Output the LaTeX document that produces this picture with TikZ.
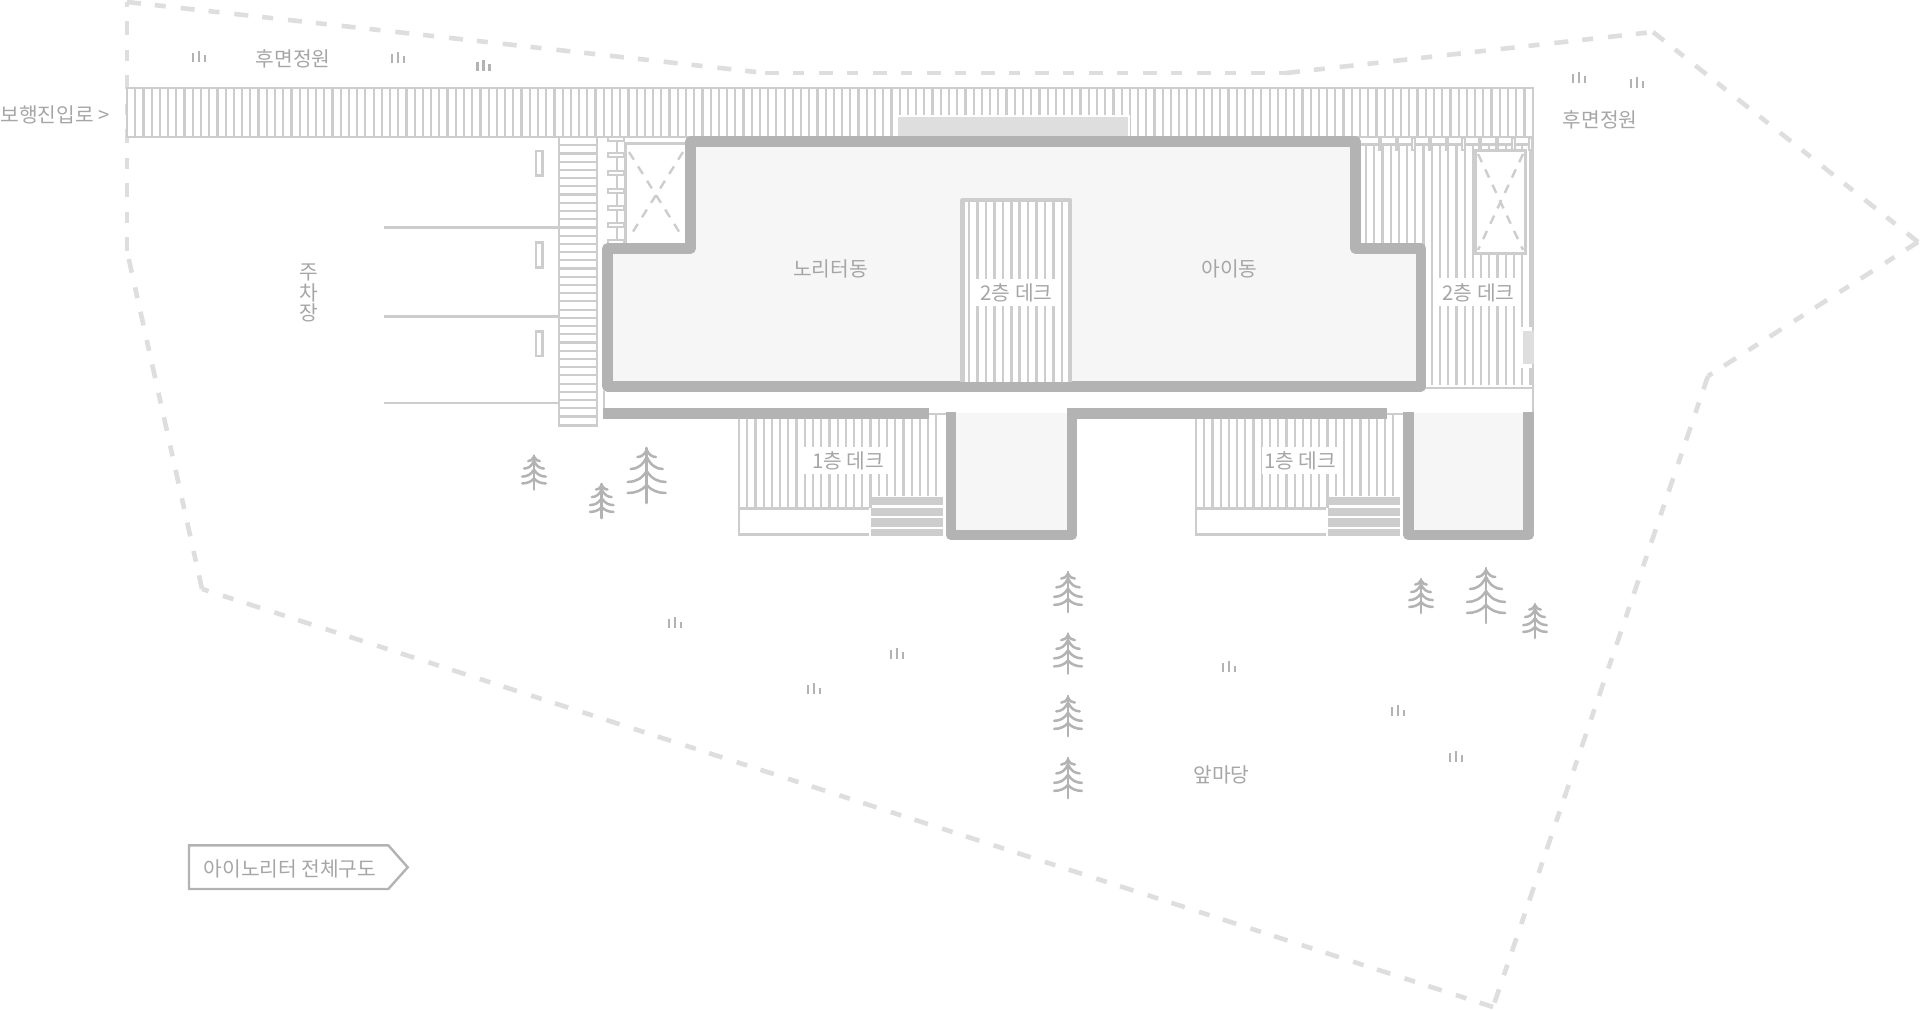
\documentclass[tikz,border=0pt]{standalone}
\usepackage{fontspec}
\setmainfont{Noto Sans CJK KR}
\definecolor{ln}{HTML}{CDCDCD}
\definecolor{wall}{HTML}{B3B3B3}
\definecolor{fl}{HTML}{F6F6F6}
\definecolor{blk}{HTML}{DEDEDE}
\definecolor{tx}{HTML}{A6A6A6}
\tikzset{
  thin line/.style={draw=ln,line width=1.25pt},
  plank/.style={draw=ln,line width=1.1pt},
  wallline/.style={draw=wall,line width=5.3pt,line join=round},
  boundary/.style={draw=blk,line width=2.3pt,dash pattern=on 7pt off 7pt on 5.5pt off 7.5pt},
  xdash/.style={draw=ln,line width=1.2pt,dash pattern=on 4.5pt off 4pt},
  lbl/.style={text=tx,font=\fontsize{10.15pt}{10.15pt}\selectfont,inner sep=0pt},
  whitebox/.style={fill=white,draw=none},
  treeline/.style={draw=wall,line width=1.25pt,line cap=round},
  grass/.style={draw=wall,line width=1.2pt}
}
\newcommand{\mytree}[3]{%
  \begin{scope}[shift={(#1,#2)},x=#3*0.5pt,y=-#3*0.5pt]
    \draw[treeline] (0,0) -- (0,55);
    \foreach \yo/\yi/\dx in {2/9/9.3, 9/21/16, 23/34/19, 37/45/19}{
      \draw[treeline] (-\dx,\yi) .. controls ({-0.6*\dx},\yi) and ({-0.25*\dx},{\yi-0.3*(\yi-\yo)}) .. (0,\yo)
        .. controls ({0.25*\dx},{\yi-0.3*(\yi-\yo)}) and ({0.6*\dx},\yi) .. (\dx,\yi);
    }
  \end{scope}}
\newcommand{\mygrass}[2]{%
  \draw[grass] ({#1-6},#2) -- ({#1-6},{#2-9});
  \draw[grass] (#1,#2) -- (#1,{#2-11});
  \draw[grass] ({#1+6},#2) -- ({#1+6},{#2-6.5});}
\begin{document}
\begin{tikzpicture}[x=0.5pt,y=-0.5pt]
\useasboundingbox (0,0) rectangle (1920,1010);
\fill[white] (0,0) rectangle (1920,1010);
% site boundary: each side starts with a dash so that every corner is marked
\coordinate (b1) at (127,2);
\coordinate (b2) at (765,73);
\coordinate (b3) at (1286,73);
\coordinate (b4) at (1653,32);
\coordinate (b5) at (1918,242);
\coordinate (b6) at (1708,376);
\coordinate (b7) at (1493,1007);
\coordinate (b8) at (202,589);
\coordinate (b9) at (127,251);
\foreach \p/\q in {b1/b2,b2/b3,b3/b4,b4/b5,b5/b6,b6/b7,b7/b8,b8/b9,b9/b1}{\draw[boundary] (\p) -- (\q);}
% top deck
\fill[white] (127,88) rectangle (1533,137);
\foreach \i in {0,...,171}{\draw[plank] ({127+\i*8.22},88) -- ({127+\i*8.22},137);}
\draw[thin line] (127,88) rectangle (1533,137);
\fill[white] (896,115) rectangle (1130,137);
\fill[blk] (898,117) rectangle (1128,137);
% parking stair
\fill[white] (559,137) rectangle (597,426);
\foreach \i in {0,...,35}{\draw[plank] (559,{137+\i*8.22}) -- (597,{137+\i*8.22});}
\draw[thin line] (559,137) rectangle (597,426);
% parking lines
\draw[thin line] (383.5,227.3) -- (559,227.3);
\draw[thin line] (383.5,316.3) -- (559,316.3);
\draw[thin line] (383.5,403) -- (559,403);
\draw[thin line] (536,151) rectangle (542.5,175.7);
\draw[thin line] (536,242.7) rectangle (542.5,267.3);
\draw[thin line] (536,331.7) rectangle (542.5,356);
% ladder
\draw[thin line] (617,137) -- (617,248);
\foreach \y in {139,155,173,191,208,225,242}{\draw[thin line,fill=white,line width=1pt] (608,{\y-1.7}) rectangle (623.5,{\y+1.7});}
\draw[thin line,fill=white] (625.5,143.5) rectangle (690,248);
\draw[xdash] (629,152) -- (683,238);
\draw[xdash] (683,152) -- (629,238);
% right deck
\foreach \i in {0,...,20}{\draw[plank] ({1366+\i*8.22},144) -- ({1366+\i*8.22},385);}
\fill[white] (1360,138.5) rectangle (1532,143.5);
\draw[thin line] (1360,144.5) -- (1533,144.5);
\foreach \i in {0,...,9}{\draw[thin line,line width=1pt,fill=white] ({1380+\i*16.7-1.2},138) rectangle ({1380+\i*16.7+1.2},150);}
\draw[thin line] (1425,388) -- (1533,388);
\draw[thin line] (1533,137) -- (1533,413);
\fill[white,draw=ln,line width=1.5pt] (1475.5,150.5) rectangle (1525.5,254);
\draw[xdash] (1478,154) -- (1523,250);
\draw[xdash] (1523,154) -- (1478,250);
\fill[white] (1521,327) rectangle (1532,368);
\fill[blk] (1523,331) rectangle (1533.5,364);
\fill[whitebox] (1437,278) rectangle (1520,306);
% building
\draw[wallline,fill=fl] (690.5,141.5) -- (1355.5,141.5) -- (1355.5,248.5) -- (1421,248.5) -- (1421,386.5) -- (607.5,386.5) -- (607.5,248.5) -- (690.5,248.5) -- cycle;
% central deck
\fill[white] (962.5,200) rectangle (1070,382);
\foreach \i in {0,...,11}{\draw[draw=ln,line width=1.3pt] ({969+\i*8.45},202) -- ({969+\i*8.45},382);}
\draw[draw=ln,line width=2.1pt,line join=round] (962.5,382) -- (962.5,200) -- (1070,200) -- (1070,382);
\fill[whitebox] (973,279) rectangle (1060,306);
% first-floor decks and pockets
\draw[thin line] (604,391) -- (604,409);
\foreach \s in {0,457}{
  \begin{scope}[shift={(\s,0)}]
    \foreach \i in {0,...,16}{\draw[plank] ({739+\i*8.22},414) -- ({739+\i*8.22},508);}
    \foreach \i in {17,...,24}{\draw[plank] ({739+\i*8.22},414) -- ({739+\i*8.22},496);}
    \draw[thin line] (925,414) -- (946,414);
    \draw[thin line] (868.5,508.5) -- (739,508.5) -- (739,534.5) -- (868.5,534.5);
    \fill[ln] (871,496.7) rectangle (943.3,505);
    \fill[ln] (871,507.7) rectangle (943.3,515.7);
    \fill[ln] (871,518.3) rectangle (943.3,526.7);
    \fill[ln] (871,529) rectangle (943.3,536);
  \end{scope}}
\fill[whitebox] (804,447) rectangle (891,474.3);
\fill[whitebox] (1261.7,447) rectangle (1339,474.3);
\fill[fl] (951,413) rectangle (1072,535);
\fill[fl] (1408.5,413) rectangle (1528,535);
\draw[wallline] (951,412) -- (951,535) -- (1072,535) -- (1072,413.5);
\draw[wallline] (1408.5,412) -- (1408.5,535) -- (1528.5,535) -- (1528.5,412);
\draw[wallline,line cap=butt] (603,413.5) -- (929,413.5);
\draw[wallline,line cap=butt] (1067,413.5) -- (1387,413.5);
% trees
\mytree{534}{455.5}{.62}
\mytree{601.7}{484}{.62}
\mytree{646.7}{448}{1}
\mytree{1068}{572}{.73}
\mytree{1068}{633.5}{.73}
\mytree{1068}{696}{.73}
\mytree{1068}{758}{.73}
\mytree{1421}{579}{.62}
\mytree{1486}{568}{1}
\mytree{1535}{604}{.62}
% grass
\mygrass{198.7}{61.7}
\mygrass{398}{63}
\mygrass{483.5}{70.7}
\mygrass{1579}{83}
\mygrass{1637}{88}
\mygrass{675}{628}
\mygrass{896.7}{658.7}
\mygrass{814}{694}
\mygrass{1229}{672}
\mygrass{1398}{716}
\mygrass{1456}{761.6}
% labels
\node[lbl] (backL) at (293,59) {후면정원};
\node[lbl] (backR) at (1600,120) {후면정원};
\node[lbl,anchor=west] (entry) at (0,114.5) {보행진입로 >};
\node[lbl,align=center] (park) at (309,293) {주\\차\\장};
\node[lbl] (nori) at (830.5,268.5) {노리터동};
\node[lbl] (child) at (1229.5,268.5) {아이동};
\node[lbl] (deckA) at (1016.5,292.5) {2층 데크};
\node[lbl] (deckB) at (1478.5,292.5) {2층 데크};
\node[lbl] (deckC) at (848,461) {1층 데크};
\node[lbl] (deckD) at (1300,461) {1층 데크};
\node[lbl] (yard) at (1221.5,775) {앞마당};
\draw[draw=wall,line width=1.2pt] (189,845.3) -- (388.3,845.3) -- (407.7,867.3) -- (388.3,889) -- (189,889) -- cycle;
\node[lbl] (title) at (290,868.5) {아이노리터 전체구도};
\end{tikzpicture}
\end{document}
